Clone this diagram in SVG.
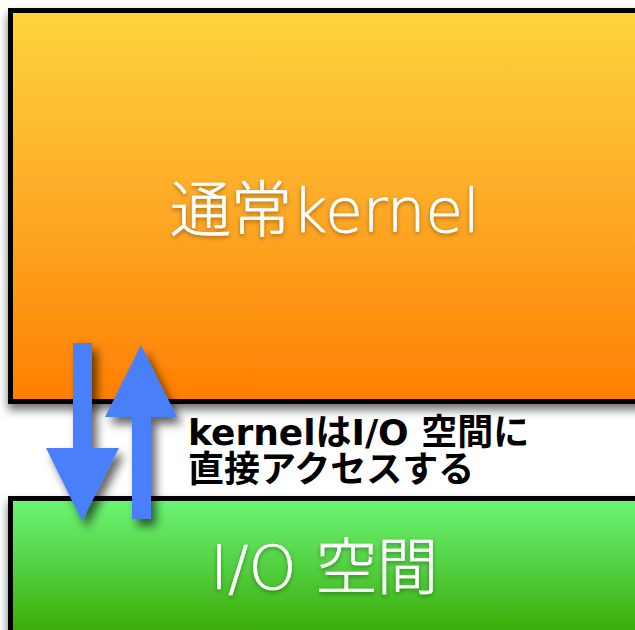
<svg xmlns="http://www.w3.org/2000/svg" width="635" height="630" viewBox="0 0 635 630">
<defs>
<linearGradient id="gTop" x1="0" y1="0" x2="0" y2="1">
<stop offset="0" stop-color="#FED43E"/>
<stop offset="0.5" stop-color="#FDAA27"/>
<stop offset="1" stop-color="#FF7F00"/>
</linearGradient>
<linearGradient id="gBot" x1="0" y1="0" x2="0" y2="1">
<stop offset="0" stop-color="#6DF676"/>
<stop offset="0.5" stop-color="#52CF40"/>
<stop offset="1" stop-color="#38A800"/>
</linearGradient>
<filter id="sh" x="-20%" y="-20%" width="140%" height="150%">
<feDropShadow dx="0" dy="6" stdDeviation="5" flood-color="#000" flood-opacity="0.55"/>
</filter>
<filter id="ash" x="-50%" y="-20%" width="200%" height="150%">
<feDropShadow dx="5" dy="7" stdDeviation="5" flood-color="#000" flood-opacity="0.6"/>
</filter>
<filter id="tsh" x="-10%" y="-20%" width="120%" height="150%">
<feDropShadow dx="0" dy="2" stdDeviation="2" flood-color="#000" flood-opacity="0.35"/>
</filter>
</defs>
<style>
.box{stroke:#000;stroke-width:5}
.big{font-family:"DejaVu Sans","Noto Sans CJK JP",sans-serif;font-weight:300;fill:#fff;text-anchor:middle;stroke:#fff;stroke-width:0.6}
.lbl{font-family:"DejaVu Sans","Noto Sans CJK JP",sans-serif;font-weight:bold;font-size:36px;fill:#000}
.arr{fill:#4A7FF9}
</style>
<rect width="635" height="630" fill="#fff"/>
<g id="kernel">
<rect class="box" x="10.5" y="10.5" width="640" height="391" fill="url(#gTop)" filter="url(#sh)"/>
<text class="big" x="325" y="232" font-size="61" filter="url(#tsh)">通常kernel</text>
</g>
<g id="io">
<rect class="box" x="10.5" y="498.5" width="640" height="140" fill="url(#gBot)" filter="url(#sh)"/>
<text class="big" x="324" y="589" font-size="61" filter="url(#tsh)">I/O 空間</text>
</g>
<g id="connectors" filter="url(#ash)">
<polygon class="arr" points="73,343 92,343 92,448 119,448 82,521 46,448 73,448"/>
<polygon class="arr" points="132,519 151,519 151,417 177,417 141,345 105,417 132,417"/>
</g>
<g id="label">
<text class="lbl" x="188" y="445">kernelはI/O 空間に</text>
<text class="lbl" x="188" y="482">直接アクセスする</text>
</g>
</svg>
